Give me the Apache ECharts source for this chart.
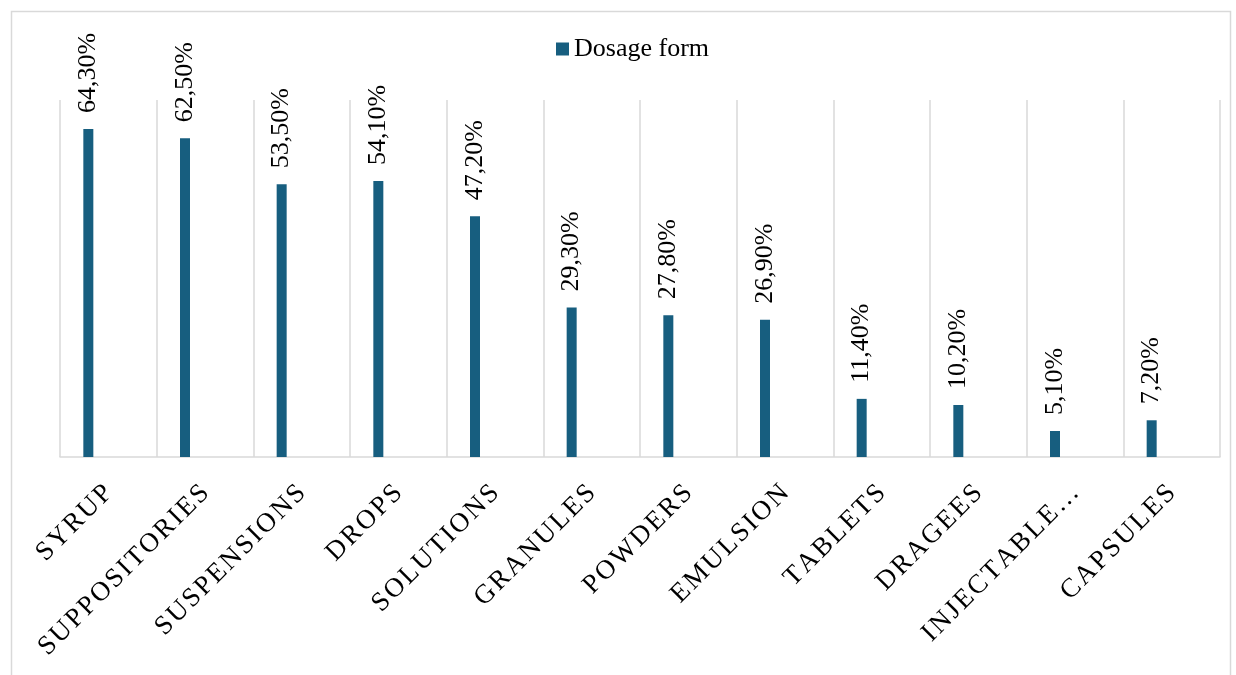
<!DOCTYPE html>
<html>
<head>
<meta charset="utf-8">
<script src="https://cdn.jsdelivr.net/npm/echarts@6/dist/echarts.min.js"></script>
<style>
  html, body { margin: 0; padding: 0; background: #fff; }
  #chart { width: 1236px; height: 675px; }
</style>
</head>
<body>
<div id="chart"></div>
<script>
// Dosage forms and the share of each (percent)
const categories = ['SYRUP', 'SUPPOSITORIES', 'SUSPENSIONS', 'DROPS', 'SOLUTIONS', 'GRANULES',
  'POWDERS', 'EMULSION', 'TABLETS', 'DRAGEES', 'INJECTABLE SOLUTIONS', 'CAPSULES'];
const dosageForm = [64.3, 62.5, 53.5, 54.1, 47.2, 29.3, 27.8, 26.9, 11.4, 10.2, 5.1, 7.2];
const seriesName = 'Dosage form';

const SERIF = '"Liberation Serif", "Times New Roman", serif';
const BAR = '#175e7f';
const GRID = '#d9d9d9';

// Long names are cut short; letters get a little extra tracking
const spaced = s => (s.length > 15 ? s.split(' ')[0] + '…' : s).split('').join('\u200A');

const chart = echarts.init(document.getElementById('chart'), null, { renderer: 'canvas' });
chart.setOption({
  backgroundColor: '#fff',
  animation: false,
  graphic: [{
    type: 'rect', left: 9, top: 9, silent: true,
    shape: { width: 1219, height: 680 },
    style: { fill: 'none', stroke: GRID, lineWidth: 1.5 }
  }],
  legend: {
    data: [seriesName],
    left: 551, top: 31,
    itemWidth: 13, itemHeight: 13, itemGap: 6,
    icon: 'rect',
    textStyle: { fontFamily: SERIF, fontSize: 26, color: '#000' }
  },
  grid: { left: 60, right: 16, top: 100, bottom: 218, containLabel: false },
  xAxis: {
    type: 'category',
    data: categories,
    boundaryGap: true,
    axisLine: { show: true, lineStyle: { color: GRID, width: 1.5 } },
    axisTick: { show: false },
    splitLine: { show: true, lineStyle: { color: GRID, width: 1.5 } },
    axisLabel: {
      interval: 0, rotate: 45, margin: 32,
      fontFamily: SERIF, fontSize: 27, color: '#000',
      formatter: spaced
    }
  },
  yAxis: {
    type: 'value', min: 0, max: 70, interval: 10,
    show: false, splitLine: { show: false }
  },
  series: [{
    name: seriesName,
    type: 'bar',
    data: dosageForm,
    barWidth: 10,
    barGap: '300%',
    itemStyle: { color: BAR },
    label: {
      show: true, position: 'top', rotate: 90, distance: 16,
      align: 'left', verticalAlign: 'middle',
      fontFamily: SERIF, fontSize: 26, color: '#000',
      formatter: p => p.value.toFixed(2).replace('.', ',') + '%'
    }
  }, {
    name: '_spacer',
    type: 'bar',
    data: categories.map(() => null),
    barWidth: 10,
    itemStyle: { color: 'transparent' }
  }]
});
</script>
</body>
</html>
